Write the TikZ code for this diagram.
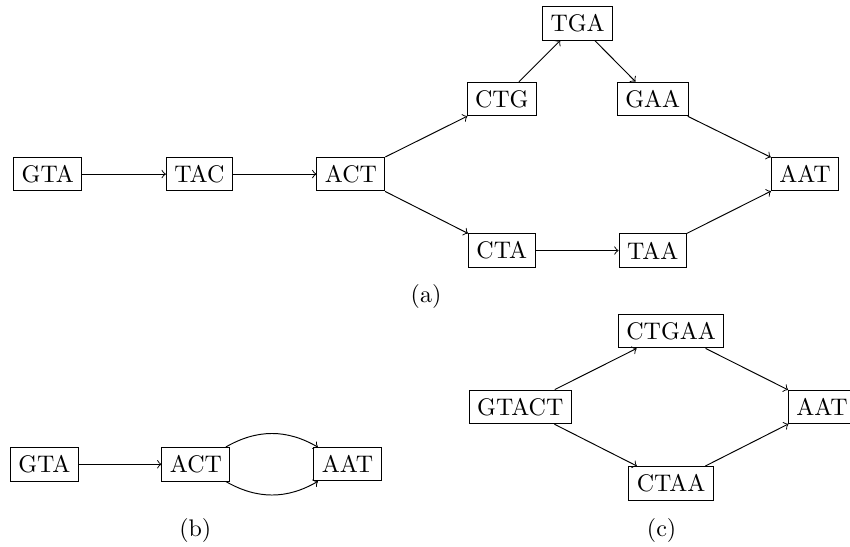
\documentclass[tikz,border=0pt]{standalone}
\begin{document}
\begin{tikzpicture}[kmer/.style={draw}]
\useasboundingbox (0,0) rectangle (12.45,8);
% (a)
\node[kmer] (gta) at (0.70,5.45) {GTA};
\node[kmer] (tac) at (2.92,5.45) {TAC};
\node[kmer] (act) at (5.14,5.45) {ACT};
\node[kmer] (ctg) at (7.35,6.55) {CTG};
\node[kmer] (tga) at (8.46,7.66) {TGA};
\node[kmer] (gaa) at (9.56,6.55) {GAA};
\node[kmer] (aat) at (11.79,5.45) {AAT};
\node[kmer] (cta) at (7.35,4.33) {CTA};
\node[kmer] (taa) at (9.56,4.33) {TAA};
\node (capa) at (6.24,3.65) {(a)};
\draw[->] (gta)--(tac);
\draw[->] (tac)--(act);
\draw[->] (act)--(ctg);
\draw[->] (ctg)--(tga);
\draw[->] (tga)--(gaa);
\draw[->] (gaa)--(aat);
\draw[->] (act)--(cta);
\draw[->] (cta)--(taa);
\draw[->] (taa)--(aat);

% (b)
\node[kmer] (bgta) at (0.65,1.20) {GTA};
\node[kmer] (bact) at (2.87,1.20) {ACT};
\node[kmer] (baat) at (5.09,1.20) {AAT};
\node (capb) at (2.86,0.23) {(b)};
\draw[->] (bgta)--(bact);
\draw[->] (bact) to[bend left] (baat);
\draw[->] (bact) to[bend right] (baat);

% (c)
\node[kmer] (cgtact) at (7.62,2.04) {GTACT};
\node[kmer] (cctgaa) at (9.83,3.15) {CTGAA};
\node[kmer] (cctaa) at (9.83,0.92) {CTAA};
\node[kmer] (caat) at (12.04,2.04) {AAT};
\node (capc) at (9.69,0.23) {(c)};
\draw[->] (cgtact)--(cctgaa);
\draw[->] (cctgaa)--(caat);
\draw[->] (cgtact)--(cctaa);
\draw[->] (cctaa)--(caat);
\end{tikzpicture}
\end{document}
